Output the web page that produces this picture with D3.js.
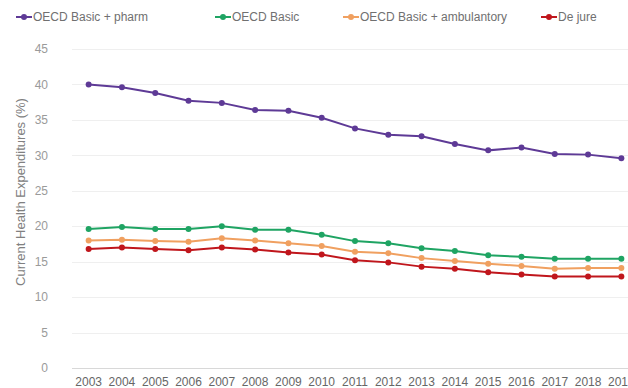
<!DOCTYPE html>
<html>
<head>
<meta charset="utf-8">
<script src="https://cdn.jsdelivr.net/npm/d3@7"></script>
<style>
  body { margin: 0; background: #fff; }
  text { font-family: "Liberation Sans", Arial, sans-serif; }
</style>
</head>
<body>
<svg id="chart" width="628" height="388"></svg>
<script>
const years = ["2003","2004","2005","2006","2007","2008","2009","2010","2011","2012","2013","2014","2015","2016","2017","2018","2019"];

const basicPharm = [40.0, 39.6, 38.8, 37.7, 37.4, 36.4, 36.3, 35.3, 33.8, 32.9, 32.7, 31.6, 30.7, 31.1, 30.2, 30.1, 29.6];
const basic      = [19.6, 19.9, 19.6, 19.6, 20.0, 19.5, 19.5, 18.8, 17.9, 17.6, 16.9, 16.5, 15.9, 15.7, 15.4, 15.4, 15.4];
const basicAmb   = [18.0, 18.1, 17.9, 17.8, 18.3, 18.0, 17.6, 17.2, 16.4, 16.2, 15.5, 15.1, 14.7, 14.4, 14.0, 14.1, 14.1];
const deJure     = [16.8, 17.0, 16.8, 16.6, 17.0, 16.7, 16.3, 16.0, 15.2, 14.9, 14.3, 14.0, 13.5, 13.2, 12.9, 12.9, 12.9];

const seriesNames  = ["OECD Basic + pharm", "OECD Basic", "OECD Basic + ambulantory", "De jure"];
const seriesColors = ["#5e3a96", "#1fa463", "#f0a060", "#c0161c"];
const yTicks = [0, 5, 10, 15, 20, 25, 30, 35, 40, 45];

const series = [basicPharm, basic, basicAmb, deJure].map((vals, i) => ({
    name: seriesNames[i],
    color: seriesColors[i],
    values: vals.map((v, j) => ({year: years[j], value: v}))
}));

const svg = d3.select("#chart");
const margin = {left: 72, top: 50, bottom: 20};
const plotRight = 638;

const x = d3.scaleBand()
    .domain(years)
    .range([margin.left, plotRight]);

const y = d3.scaleLinear()
    .domain([0, 45])
    .range([368, 49]);

// gridlines
svg.append("g")
    .selectAll("line")
    .data(yTicks)
    .join("line")
    .attr("x1", margin.left)
    .attr("x2", plotRight)
    .attr("y1", d => Math.round(y(d)) + 0.5)
    .attr("y2", d => Math.round(y(d)) + 0.5)
    .attr("stroke", d => d === 0 ? "#d8d8d8" : "#efefef")
    .attr("stroke-width", 1);

// y tick labels
svg.append("g")
    .selectAll("text")
    .data(yTicks)
    .join("text")
    .attr("x", 48)
    .attr("y", d => y(d))
    .attr("dy", "0.35em")
    .attr("text-anchor", "end")
    .attr("fill", "#9a9a9a")
    .attr("font-size", 12)
    .text(d => d);

// x tick labels
svg.append("g")
    .selectAll("text")
    .data(years)
    .join("text")
    .attr("x", d => x(d) + x.bandwidth() / 2)
    .attr("y", 386)
    .attr("text-anchor", "middle")
    .attr("fill", "#666")
    .attr("font-size", 12)
    .text(d => d);

// y axis title
svg.append("text")
    .attr("transform", "translate(25,192) rotate(-90)")
    .attr("text-anchor", "middle")
    .attr("fill", "#808080")
    .attr("font-size", 13)
    .text("Current Health Expenditures (%)");

const line = d3.line()
    .x(d => x(d.year) + x.bandwidth() / 2)
    .y(d => y(d.value));

const lines = svg.append("g")
    .selectAll("g")
    .data(series)
    .join("g");

lines.append("path")
    .attr("d", d => line(d.values))
    .attr("fill", "none")
    .attr("stroke", d => d.color)
    .attr("stroke-width", 2);

lines.each(function(s) {
    d3.select(this).selectAll("circle")
        .data(s.values)
        .join("circle")
        .attr("cx", d => x(d.year) + x.bandwidth() / 2)
        .attr("cy", d => y(d.value))
        .attr("r", 3)
        .attr("fill", s.color);
});

// legend
const legendX = [16, 215, 343, 541];
const legend = svg.append("g")
    .selectAll("g")
    .data(series)
    .join("g")
    .attr("transform", (d, i) => "translate(" + legendX[i] + ",17)");

legend.append("line")
    .attr("x1", 0).attr("x2", 16)
    .attr("stroke", d => d.color)
    .attr("stroke-width", 2);

legend.append("circle")
    .attr("cx", 8)
    .attr("r", 3)
    .attr("fill", d => d.color);

legend.append("text")
    .attr("x", 17)
    .attr("dy", "0.35em")
    .attr("fill", "#707070")
    .attr("font-size", 12)
    .text(d => d.name);
</script>
</body>
</html>
